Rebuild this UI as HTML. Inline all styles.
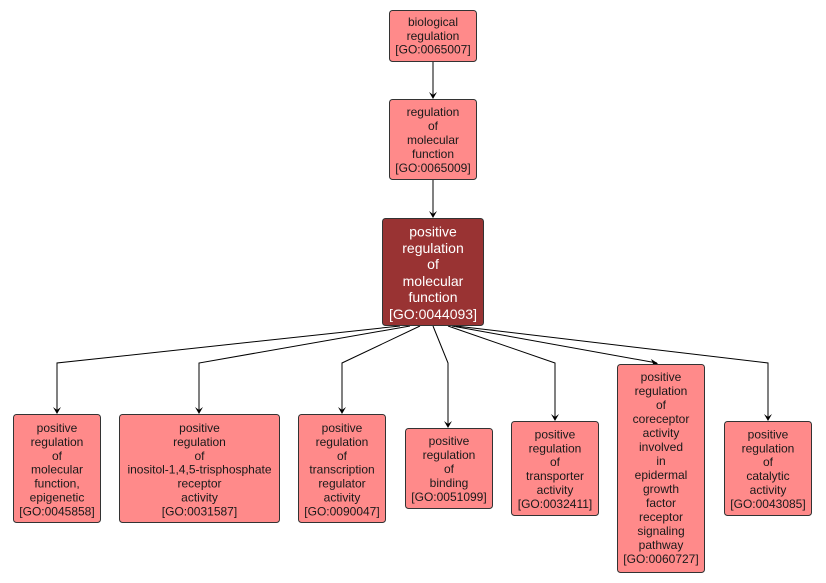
<!DOCTYPE html>
<html>
<head>
<meta charset="utf-8">
<style>
  html,body{margin:0;padding:0;background:#fff;}
  svg{display:block;}
  text{font-family:"Liberation Sans",Arial,sans-serif;font-size:12px;fill:#1a1a1a;text-anchor:middle;}
  .w{fill:#ffffff;font-size:14px;}
  .b{fill:#ff8a8a;stroke:#333;stroke-width:1;}
  .m{fill:#993333;stroke:#333;stroke-width:1;}
  .e{fill:none;stroke:#000;stroke-width:1;}
</style>
</head>
<body>
<svg width="826" height="583" viewBox="0 0 826 583" xmlns="http://www.w3.org/2000/svg">
  <!-- edges -->
  <path class="e" d="M433,61 L433,98"/>
  <path class="e" d="M433,180 L433,217"/>
  <path class="e" d="M400,326 L57,363 L57,413"/>
  <path class="e" d="M410,326 L199,363 L199,413"/>
  <path class="e" d="M420,326 L342,363 L342,413"/>
  <path class="e" d="M433,326 L448,363 L448,427"/>
  <path class="e" d="M448,326 L555,363 L555,420"/>
  <path class="e" d="M452,326 L657,363"/>
  <path class="e" d="M456,326 L768,363 L768,420"/>
  <!-- arrowheads -->
  <g fill="#000">
    <path d="M429,92 L433,99 L437,92 L433,95 Z"/>
    <path d="M429,211 L433,218 L437,211 L433,214 Z"/>
    <path d="M53,407 L57,414 L61,407 L57,410 Z"/>
    <path d="M195,407 L199,414 L203,407 L199,410 Z"/>
    <path d="M338,407 L342,414 L346,407 L342,410 Z"/>
    <path d="M444,421 L448,428 L452,421 L448,424 Z"/>
    <path d="M551,414 L555,421 L559,414 L555,417 Z"/>
    <path d="M651,359 L658,363.5 L650,367 L653,363.5 Z"/>
    <path d="M764,414 L768,421 L772,414 L768,417 Z"/>
  </g>

  <!-- top node -->
  <rect class="b" x="389.5" y="10.5" width="87" height="51" rx="3"/>
  <text x="433" y="26">biological</text>
  <text x="433" y="40">regulation</text>
  <text x="433" y="53.5">[GO:0065007]</text>

  <!-- second node -->
  <rect class="b" x="389.5" y="99.5" width="87" height="80" rx="3"/>
  <text x="433" y="116">regulation</text>
  <text x="433" y="130">of</text>
  <text x="433" y="144">molecular</text>
  <text x="433" y="158">function</text>
  <text x="433" y="172">[GO:0065009]</text>

  <!-- main node -->
  <rect class="m" x="382.5" y="218.5" width="101" height="107" rx="3"/>
  <text class="w" x="433" y="236.5">positive</text>
  <text class="w" x="433" y="253">regulation</text>
  <text class="w" x="433" y="269">of</text>
  <text class="w" x="433" y="286">molecular</text>
  <text class="w" x="433" y="302">function</text>
  <text class="w" x="433" y="319">[GO:0044093]</text>

  <!-- box 1 -->
  <rect class="b" x="13.5" y="414.5" width="87" height="108" rx="3"/>
  <text x="57" y="432">positive</text>
  <text x="57" y="446">regulation</text>
  <text x="57" y="460">of</text>
  <text x="57" y="473.5">molecular</text>
  <text x="57" y="487.5">function,</text>
  <text x="57" y="501.5">epigenetic</text>
  <text x="57" y="515.5">[GO:0045858]</text>

  <!-- box 2 -->
  <rect class="b" x="119.5" y="414.5" width="160" height="108" rx="3"/>
  <text x="199.5" y="432">positive</text>
  <text x="199.5" y="446">regulation</text>
  <text x="199.5" y="460">of</text>
  <text x="199.5" y="473.5">inositol-1,4,5-trisphosphate</text>
  <text x="199.5" y="487.5">receptor</text>
  <text x="199.5" y="501.5">activity</text>
  <text x="199.5" y="515.5">[GO:0031587]</text>

  <!-- box 3 -->
  <rect class="b" x="298.5" y="414.5" width="87" height="108" rx="3"/>
  <text x="342" y="432">positive</text>
  <text x="342" y="446">regulation</text>
  <text x="342" y="460">of</text>
  <text x="342" y="473.5">transcription</text>
  <text x="342" y="487.5">regulator</text>
  <text x="342" y="501.5">activity</text>
  <text x="342" y="515.5">[GO:0090047]</text>

  <!-- box 4 -->
  <rect class="b" x="405.5" y="428.5" width="87" height="80" rx="3"/>
  <text x="449" y="445">positive</text>
  <text x="449" y="459">regulation</text>
  <text x="449" y="473">of</text>
  <text x="449" y="487">binding</text>
  <text x="449" y="501">[GO:0051099]</text>

  <!-- box 5 -->
  <rect class="b" x="511.5" y="421.5" width="87" height="94" rx="3"/>
  <text x="555" y="438.5">positive</text>
  <text x="555" y="452.5">regulation</text>
  <text x="555" y="466">of</text>
  <text x="555" y="480">transporter</text>
  <text x="555" y="494">activity</text>
  <text x="555" y="508">[GO:0032411]</text>

  <!-- box 6 -->
  <rect class="b" x="617.5" y="364.5" width="87" height="208" rx="3"/>
  <text x="661" y="381">positive</text>
  <text x="661" y="395">regulation</text>
  <text x="661" y="409">of</text>
  <text x="661" y="423">coreceptor</text>
  <text x="661" y="437">activity</text>
  <text x="661" y="451">involved</text>
  <text x="661" y="465">in</text>
  <text x="661" y="479">epidermal</text>
  <text x="661" y="493">growth</text>
  <text x="661" y="507">factor</text>
  <text x="661" y="521">receptor</text>
  <text x="661" y="535">signaling</text>
  <text x="661" y="549">pathway</text>
  <text x="661" y="563">[GO:0060727]</text>

  <!-- box 7 -->
  <rect class="b" x="724.5" y="421.5" width="87" height="94" rx="3"/>
  <text x="768" y="438.5">positive</text>
  <text x="768" y="452.5">regulation</text>
  <text x="768" y="466">of</text>
  <text x="768" y="480">catalytic</text>
  <text x="768" y="494">activity</text>
  <text x="768" y="508">[GO:0043085]</text>
</svg>
</body>
</html>
